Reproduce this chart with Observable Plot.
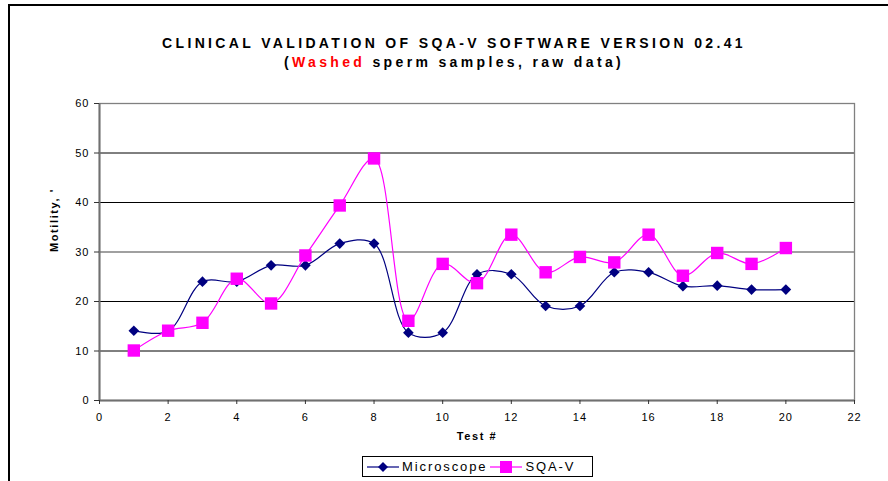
<!DOCTYPE html>
<html>
<head>
<meta charset="utf-8">
<script src="https://cdn.jsdelivr.net/npm/d3@7"></script>
<script src="https://cdn.jsdelivr.net/npm/@observablehq/plot@0.6"></script>
<style>
  body { margin: 0; background: #fff; }
  #wrap { position: relative; width: 888px; height: 481px; overflow: hidden; font-family: "Liberation Sans", Arial, sans-serif; color: #000; }
  .bt { position: absolute; left: 8px; top: 4px; width: 880px; height: 2px; background: #000; }
  .bl { position: absolute; left: 8px; top: 4px; width: 2px; height: 477px; background: #000; }
  .title { position: absolute; left: 0; width: 908px; text-align: center; font-weight: bold; font-size: 14px; letter-spacing: 3.35px; }
  #plot { position: absolute; left: 0; top: 80px; }
  #plot svg g[aria-label="text"] text { letter-spacing: 1.6px; }
  #plot svg g[aria-label="y-axis tick label"] text, #plot svg g[aria-label="x-axis tick label"] text { letter-spacing: 1px; }
  .legend { position: absolute; left: 362px; top: 456px; width: 231px; height: 21px; border: 1px solid #000; box-sizing: border-box; display: flex; align-items: center; font-size: 13px; letter-spacing: 1.9px; }
  .legend svg { display: block; }
</style>
</head>
<body>
<div id="wrap">
  <div class="bt"></div>
  <div class="bl"></div>
  <div class="title" style="top:35px">CLINICAL VALIDATION OF SQA-V SOFTWARE VERSION 02.41</div>
  <div class="title" style="top:54px">(<span style="color:#ff0000">Washed</span> sperm samples, raw data)</div>
  <div id="plot"></div>
  <div class="legend">
    <svg width="34" height="18" style="margin-left:3px"><line x1="1" x2="33" y1="9" y2="9" stroke="#000080" stroke-width="1.2"/><path d="M17,4L22,9L17,14L12,9Z" fill="#000080"/></svg>
    <span style="margin-left:2px">Microscope</span>
    <svg width="34" height="18" style="margin-left:2px"><line x1="1" x2="33" y1="9" y2="9" stroke="#ff00ff" stroke-width="1.2"/><rect x="11" y="3" width="12" height="12" fill="#ff00ff"/></svg>
    <span style="margin-left:2px">SQA-V</span>
  </div>
</div>
<script>
const tests = [1, 2, 3, 4, 5, 6, 7, 8, 9, 10, 11, 12, 13, 14, 15, 16, 17, 18, 19, 20];
const microscope = [14.1, 14.0, 24.0, 24.0, 27.3, 27.3, 31.7, 31.7, 13.7, 13.7, 25.5, 25.5, 19.1, 19.1, 25.9, 25.9, 23.1, 23.2, 22.4, 22.4];
const sqav = [10.1, 14.1, 15.7, 24.6, 19.6, 29.3, 39.4, 48.9, 16.1, 27.6, 23.7, 33.5, 25.9, 29.0, 27.9, 33.5, 25.2, 29.8, 27.6, 30.8];
const xTicks = [0, 2, 4, 6, 8, 10, 12, 14, 16, 18, 20, 22];
const yTicks = [0, 10, 20, 30, 40, 50, 60];
const xLabel = "Test #";
const yLabel = "Motility, '";

const micData = tests.map((t, i) => ({test: t, value: microscope[i]}));
const sqaData = tests.map((t, i) => ({test: t, value: sqav[i]}));

const chart = Plot.plot({
  width: 888,
  height: 380,
  marginLeft: 99,
  marginRight: 34,
  marginTop: 23,
  marginBottom: 60,
  style: {fontFamily: "'Liberation Sans', Arial, sans-serif", fontSize: "11px", color: "#000", background: "transparent", overflow: "visible"},
  x: {domain: [0, 22]},
  y: {domain: [0, 60]},
  marks: [
    Plot.ruleY([10, 20, 40, 50], {stroke: "#000", strokeWidth: 1}),
    Plot.ruleY([30], {stroke: "#808080", strokeWidth: 1.6}),
    Plot.frame({stroke: "#808080", strokeWidth: 1.3}),
    Plot.ruleX([0], {stroke: "#707070", strokeWidth: 2}),
    Plot.ruleY([0], {stroke: "#707070", strokeWidth: 2}),
    Plot.axisY({ticks: yTicks, tickSize: 5, tickPadding: 5, stroke: "#333", label: null}),
    Plot.axisX({ticks: xTicks, tickSize: 4, tickPadding: 9, stroke: "#333", label: null}),
    Plot.text([xLabel], {text: d => d, frameAnchor: "bottom", dy: 39, fontWeight: "bold", fontSize: 11}),
    Plot.text([yLabel], {text: d => d, frameAnchor: "left", dx: -45, rotate: -90, fontWeight: "bold", fontSize: 11}),
    Plot.line(micData, {x: "test", y: "value", stroke: "#000080", strokeWidth: 1.2, curve: "catmull-rom"}),
    Plot.line(sqaData, {x: "test", y: "value", stroke: "#ff00ff", strokeWidth: 1.2, curve: "catmull-rom"}),
    Plot.dot(micData, {x: "test", y: "value", symbol: "diamond2", r: 4.8, fill: "#000080", stroke: "none"}),
    Plot.dot(sqaData, {x: "test", y: "value", symbol: "square", r: 7, fill: "#ff00ff", stroke: "none"})
  ]
});
document.getElementById("plot").appendChild(chart);
</script>
</body>
</html>
